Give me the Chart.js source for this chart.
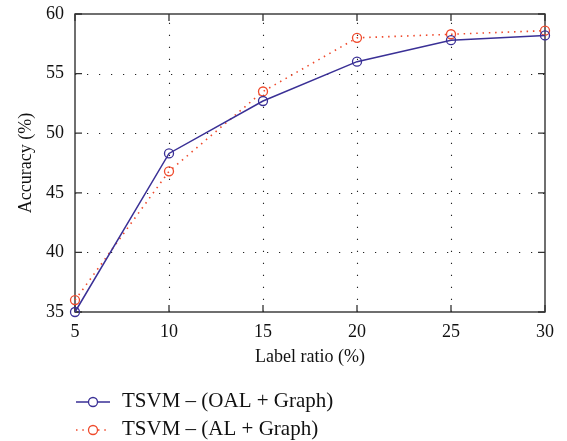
<!DOCTYPE html>
<html><head><meta charset="utf-8">
<script src="https://cdn.jsdelivr.net/npm/chart.js@4/dist/chart.umd.min.js"></script>
<style>html,body{margin:0;padding:0;background:#fff}</style>
</head><body>
<canvas id="c" width="567" height="441" style="width:567px;height:441px;display:block"></canvas>
<script>
const labelRatios = [5, 10, 15, 20, 25, 30];
const oalGraph = [35.0, 48.3, 52.7, 56.0, 57.8, 58.2];
const alGraph = [36.0, 46.8, 53.5, 58.0, 58.3, 58.6];
const seriesNames = ['TSVM – (OAL + Graph)', 'TSVM – (AL + Graph)'];
const xTicks = [5, 10, 15, 20, 25, 30];
const yTicks = [35, 40, 45, 50, 55, 60];
const xTitle = 'Label ratio (%)';
const yTitle = 'Accuracy (%)';

const BLUE = '#3a3096';
const RED = '#ef4a2c';
const SERIF = '"Liberation Serif", "DejaVu Serif", serif';

const framePlugin = {
  id: 'frame',
  beforeDatasetsDraw(chart) {
    const {ctx, chartArea: a, scales: {x, y}} = chart;
    ctx.save();
    // dotted grid
    ctx.strokeStyle = '#222';
    ctx.lineWidth = 1.1;
    ctx.setLineDash([1.2, 10.8]);
    xTicks.forEach(v => {
      const px = Math.round(x.getPixelForValue(v)) + 0.5;
      if (px <= a.left + 1 || px >= a.right - 1) return;
      ctx.beginPath(); ctx.moveTo(px, a.bottom); ctx.lineTo(px, a.top); ctx.stroke();
    });
    yTicks.forEach(v => {
      const py = Math.round(y.getPixelForValue(v)) + 0.5;
      if (py <= a.top + 1 || py >= a.bottom - 1) return;
      ctx.beginPath(); ctx.moveTo(a.left, py); ctx.lineTo(a.right, py); ctx.stroke();
    });
    ctx.setLineDash([]);
    // inward ticks
    ctx.strokeStyle = '#333';
    ctx.lineWidth = 1.3;
    const tl = 7;
    xTicks.forEach(v => {
      const px = x.getPixelForValue(v);
      ctx.beginPath();
      ctx.moveTo(px, a.bottom); ctx.lineTo(px, a.bottom - tl);
      ctx.moveTo(px, a.top); ctx.lineTo(px, a.top + tl);
      ctx.stroke();
    });
    yTicks.forEach(v => {
      const py = y.getPixelForValue(v);
      ctx.beginPath();
      ctx.moveTo(a.left, py); ctx.lineTo(a.left + tl, py);
      ctx.moveTo(a.right, py); ctx.lineTo(a.right - tl, py);
      ctx.stroke();
    });
    // frame
    ctx.lineWidth = 1.4;
    ctx.strokeRect(a.left, a.top, a.right - a.left, a.bottom - a.top);
    ctx.restore();
  },
  afterDraw(chart) {
    const {ctx} = chart;
    ctx.save();
    const rows = [401, 429];
    chart.data.datasets.forEach((ds, i) => {
      const yy = rows[i];
      const x0 = 76, x1 = 110, cx = 93;
      ctx.strokeStyle = ds.borderColor;
      ctx.lineWidth = ds.borderWidth;
      ctx.setLineDash(ds.borderDash || []);
      ctx.beginPath(); ctx.moveTo(x0, yy + 1); ctx.lineTo(cx - 5, yy + 1);
      ctx.moveTo(cx + 5, yy + 1); ctx.lineTo(x1, yy + 1); ctx.stroke();
      ctx.setLineDash([]);
      ctx.lineWidth = ds.pointBorderWidth;
      ctx.beginPath(); ctx.arc(cx, yy + 1, ds.pointRadius, 0, Math.PI * 2); ctx.stroke();
      ctx.fillStyle = '#111';
      ctx.font = '21px ' + SERIF;
      ctx.textBaseline = 'middle';
      ctx.textAlign = 'left';
      ctx.fillText(ds.label, 122, yy);
    });
    ctx.restore();
  }
};

const mk = arr => labelRatios.map((v, i) => ({x: v, y: arr[i]}));

new Chart(document.getElementById('c'), {
  type: 'line',
  data: {
    datasets: [
      {
        label: seriesNames[0], data: mk(oalGraph),
        borderColor: BLUE, borderWidth: 1.5, tension: 0,
        pointStyle: 'circle', pointRadius: 4.5, pointBorderWidth: 1.3,
        pointBorderColor: BLUE, pointBackgroundColor: 'rgba(0,0,0,0)', clip: false
      },
      {
        label: seriesNames[1], data: mk(alGraph),
        borderColor: RED, borderWidth: 1.6, borderDash: [1.5, 4.8], tension: 0,
        pointStyle: 'circle', pointRadius: 4.5, pointBorderWidth: 1.3,
        pointBorderColor: RED, pointBackgroundColor: 'rgba(0,0,0,0)', clip: false
      }
    ]
  },
  options: {
    responsive: false,
    animation: false,
    layout: {padding: {left: 0, top: 14, right: 22, bottom: 72}},
    plugins: {legend: {display: false}, tooltip: {enabled: false}},
    scales: {
      x: {
        type: 'linear', min: 5, max: 30,
        afterBuildTicks: s => { s.ticks = xTicks.map(v => ({value: v})); },
        afterFit: s => { s.height = 57; s.paddingLeft = 0; s.paddingRight = 0; },
        grid: {display: false, drawTicks: false},
        border: {display: false},
        ticks: {color: '#111', font: {family: SERIF, size: 18}, padding: 9, maxRotation: 0},
        title: {display: true, text: xTitle, color: '#111', font: {family: SERIF, size: 18}, padding: {top: 0, bottom: 1}}
      },
      y: {
        type: 'linear', min: 35, max: 60,
        afterBuildTicks: s => { s.ticks = yTicks.map(v => ({value: v})); },
        afterFit: s => { s.width = 75; s.paddingTop = 0; s.paddingBottom = 0; },
        grid: {display: false, drawTicks: false},
        border: {display: false},
        ticks: {color: '#111', font: {family: SERIF, size: 18}, padding: 11},
        title: {display: true, text: yTitle, color: '#111', font: {family: SERIF, size: 18}, padding: {top: 15, bottom: 0}}
      }
    }
  },
  plugins: [framePlugin]
});
</script>
</body></html>
